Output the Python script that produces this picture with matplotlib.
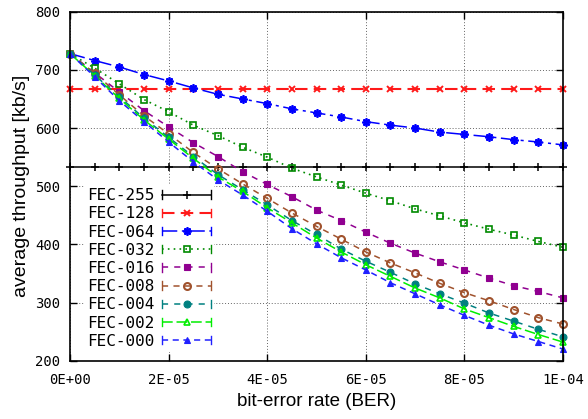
import matplotlib
matplotlib.use("Agg")
import matplotlib.pyplot as plt
from matplotlib.lines import Line2D
from matplotlib.legend_handler import HandlerLine2D

# ---- data ----
ber = [0.0, 5e-6, 1e-5, 1.5e-5, 2e-5, 2.5e-5, 3e-5, 3.5e-5, 4e-5, 4.5e-5, 5e-5,
       5.5e-5, 6e-5, 6.5e-5, 7e-5, 7.5e-5, 8e-5, 8.5e-5, 9e-5, 9.5e-5, 1e-4]

fec255 = [533] * 21
fec128 = [667] * 21
fec064 = [728, 716, 705, 692, 681, 669, 658, 650, 642, 633, 626,
          619, 611, 605, 600, 593, 589, 585, 580, 576, 571]
fec032 = [728, 703, 676, 649, 628, 605, 587, 567, 550, 531, 516,
          502, 488, 475, 461, 449, 437, 426, 416, 405, 395]
fec016 = [728, 695, 662, 630, 602, 575, 551, 525, 503, 482, 459,
          441, 421, 402, 385, 370, 356, 342, 329, 319, 308]
fec008 = [728, 694, 657, 621, 590, 558, 530, 504, 479, 454, 431,
          409, 387, 368, 351, 333, 317, 303, 288, 274, 263]
fec004 = [728, 691, 654, 617, 584, 551, 520, 494, 468, 441, 417,
          392, 371, 352, 332, 315, 299, 282, 268, 254, 241]
fec002 = [728, 690, 651, 614, 581, 548, 516, 491, 463, 437, 411,
          387, 365, 345, 325, 308, 289, 274, 259, 245, 232]
fec000 = [728, 688, 647, 611, 576, 542, 511, 485, 457, 427, 401,
          377, 356, 334, 315, 296, 278, 261, 246, 233, 220]

labels = ["FEC-255", "FEC-128", "FEC-064", "FEC-032", "FEC-016",
          "FEC-008", "FEC-004", "FEC-002", "FEC-000"]

xticks = [0.0, 2e-5, 4e-5, 6e-5, 8e-5, 1e-4]
xticklabels = ["0E+00", "2E-05", "4E-05", "6E-05", "8E-05", "1E-04"]
yticks = [200, 300, 400, 500, 600, 700, 800]

series = [fec255, fec128, fec064, fec032, fec016, fec008, fec004, fec002, fec000]

styles = [
    dict(color="black", ls="-", lw=1.1, marker="+", ms=6, mew=1.1, mfc="black"),
    dict(color="#ff1a1a", ls=(0, (6, 3)), lw=1.5, marker="x", ms=4.5, mew=1.4),
    dict(color="#0000ff", ls=(0, (10, 3, 2, 3)), lw=1.1, marker=(8, 2, 0), ms=6, mew=1.3),
    dict(color="#008a00", ls=(0, (1, 2.5)), lw=1.2, marker="s", ms=4.5, mew=1.2, mfc="none"),
    dict(color="#900090", ls=(0, (4, 4)), lw=1.1, marker="s", ms=5, mew=0.8),
    dict(color="#a0522d", ls=(0, (4, 3.5)), lw=1.1, marker="o", ms=5, mew=1.5, mfc="none"),
    dict(color="#008080", ls=(0, (4, 4)), lw=1.1, marker="o", ms=5, mew=0.8),
    dict(color="#00ee00", ls=(0, (7, 2.5)), lw=1.1, marker="^", ms=5, mew=1.2, mfc="none"),
    dict(color="#2020ff", ls=(0, (4, 3)), lw=1.1, marker="^", ms=5, mew=0.8),
]


class CapHandler(HandlerLine2D):
    def create_artists(self, legend, orig_handle, xdescent, ydescent,
                       width, height, fontsize, trans):
        artists = super().create_artists(legend, orig_handle, xdescent, ydescent,
                                         width, height, fontsize, trans)
        yc = height / 2.0 - ydescent
        cap = 3.0
        for xx in (-xdescent, -xdescent + width):
            l = Line2D([xx, xx], [yc - cap, yc + cap],
                       color=orig_handle.get_color(), lw=1.0)
            l.set_transform(trans)
            artists.append(l)
        return artists


fig = plt.figure(figsize=(5.88, 4.19), dpi=100)
ax = fig.add_axes([70 / 588, 1 - 360.7 / 419, (563 - 70) / 588, (360.7 - 11.7) / 419])

handles = []
for ys, st, lab in zip(series, styles, labels):
    h, = ax.plot(ber, ys, label=lab, clip_on=False, **st)
    handles.append(h)

ax.set_xlim(0, 1e-4)
ax.set_ylim(200, 800)
ax.set_xticks(xticks)
ax.set_xticklabels(xticklabels)
ax.set_yticks(yticks)

mono = "DejaVu Sans Mono"
for t in ax.get_xticklabels() + ax.get_yticklabels():
    t.set_fontfamily(mono)
    t.set_fontsize(10)

ax.tick_params(axis="both", direction="in", length=5, width=1,
               top=True, right=True)
ax.tick_params(axis="x", pad=9)
ax.tick_params(axis="y", pad=7)

ax.grid(True, color="#666666", ls=(0, (1, 2)), lw=0.7)
for sp in ax.spines.values():
    sp.set_linewidth(1.2)

ax.set_xlabel("bit-error rate (BER)", fontfamily="Liberation Sans", fontsize=13.5, labelpad=4)
ax.set_ylabel("average throughput [kb/s]", fontfamily="Liberation Sans", fontsize=14, labelpad=4)

leg = ax.legend(handles=handles, loc="upper left",
                bbox_to_anchor=(84 / 588, 1 - 185 / 419), bbox_transform=fig.transFigure,
                markerfirst=False, numpoints=1, handlelength=3.1, handletextpad=0.45,
                labelspacing=0.2, borderpad=0.2, borderaxespad=0,
                frameon=True, fancybox=False, framealpha=1.0,
                prop={"family": mono, "size": 11.5},
                handler_map={Line2D: CapHandler()})
leg.get_frame().set_edgecolor("none")
leg.get_frame().set_facecolor("white")

fig.savefig("out.png", dpi=100)
